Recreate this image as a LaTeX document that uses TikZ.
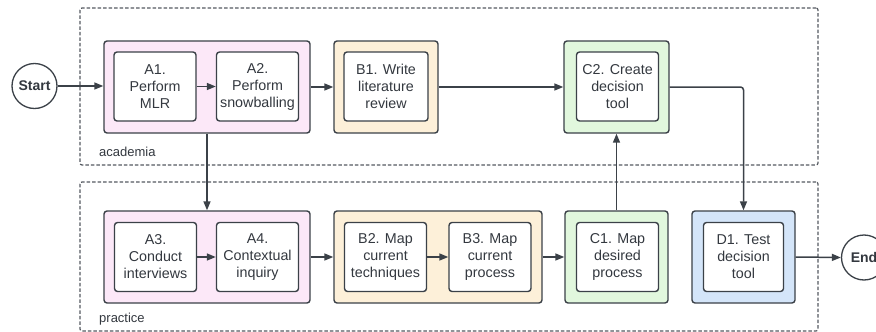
\documentclass[tikz,border=0pt]{standalone}
\usepackage{fontspec}
\setmainfont{Liberation Sans}
\usetikzlibrary{arrows.meta}
\definecolor{ink}{HTML}{3B4148}
\definecolor{txt}{HTML}{33383F}
\definecolor{pinkf}{HTML}{FCE8F8}
\definecolor{yelf}{HTML}{FDF0D9}
\definecolor{grnf}{HTML}{E1F7DD}
\definecolor{bluf}{HTML}{D4E5F9}
\definecolor{framec}{HTML}{555A61}
\begin{document}
\begin{tikzpicture}[x=1pt,y=-1pt,
  grp/.style={draw=ink, line width=1.4pt, rounded corners=3pt, inner sep=0pt, minimum height=92pt},
  task/.style={draw=ink, fill=white, line width=1.4pt, rounded corners=3pt, minimum width=82pt, minimum height=69pt, align=center, font=\fontsize{14.3}{17}\selectfont, text=txt, inner sep=0pt},
  term/.style={circle, draw=ink, line width=1.3pt, minimum size=45pt, inner sep=0pt, font=\bfseries\fontsize{14}{17}\selectfont, text=txt},
  flow/.style={draw=ink, line width=1.5pt, rounded corners=3pt, -{Triangle[length=9pt,width=7pt]}},
  laneframe/.style={draw=framec, line width=1.2pt, dash pattern=on 3.5pt off 2pt, rounded corners=2pt, inner sep=0pt},
  lane/.style={font=\fontsize{13}{15}\selectfont, text=txt, anchor=west, inner sep=0pt}]
\clip (0,0) rectangle (876,332);
\fill[white] (0,0) rectangle (876,332);

% swimlanes
\node[laneframe, minimum width=738pt, minimum height=157pt] (acad) at (449,86.5) {};
\node[laneframe, minimum width=738pt, minimum height=149pt] (prac) at (449,256.5) {};
\node[lane] (acadlbl) at (99,152) {academia};
\node[lane] (praclbl) at (99,319) {practice};

% terminals
\node[term] (start) at (34.5,86) {Start};
\node[term] (end) at (864,257.5) {End};

% groups top
\node[grp, fill=pinkf, minimum width=206pt] (gA) at (207,87) {};
\node[grp, fill=yelf, minimum width=104pt] (gB1) at (386,87) {};
\node[grp, fill=grnf, minimum width=105pt] (gC2) at (616.5,87) {};
% groups bottom
\node[grp, fill=pinkf, minimum width=206pt] (gA2) at (207,257) {};
\node[grp, fill=yelf, minimum width=208pt] (gB2) at (438,257) {};
\node[grp, fill=grnf, minimum width=103pt] (gC1) at (616.5,257) {};
\node[grp, fill=bluf, minimum width=103pt] (gD1) at (743.5,257) {};

% tasks top
\node[task] (a1) at (155,86.5) {A1.\\Perform\\MLR};
\node[task] (a2) at (257.5,86.5) {A2.\\Perform\\snowballing};
\node[task, minimum width=84pt] (b1) at (386,86.5) {B1. Write\\literature\\review};
\node[task] (c2) at (617.5,86.5) {C2. Create\\decision\\tool};
% tasks bottom
\node[task] (a3) at (155.5,257) {A3.\\Conduct\\interviews};
\node[task] (a4) at (257.5,257) {A4.\\Contextual\\inquiry};
\node[task] (b2) at (385.5,257) {B2. Map\\current\\techniques};
\node[task] (b3) at (490,257) {B3. Map\\current\\process};
\node[task] (c1) at (617.5,257) {C1. Map\\desired\\process};
\node[task, minimum width=80pt] (d1) at (743.5,257) {D1. Test\\decision\\tool};

% connectors
\draw[flow] (start.east) -- (gA.west |- start.east);
\draw[flow] (a1) -- (a2);
\draw[flow] (gA.east) -- (gB1.west);
\draw[flow] (gB1.east) -- (gC2.west);
\draw[flow] (gC2.east) -| (gD1.north);
\draw[flow] (gA.south) -- (gA2.north);
\draw[flow] (gC1.north) -- (gC2.south);
\draw[flow] (a3) -- (a4);
\draw[flow] (gA2.east) -- (gB2.west);
\draw[flow] (b2) -- (b3);
\draw[flow] (gB2.east) -- (gC1.west);
\draw[flow] (gD1.east) -- (end.west);
\end{tikzpicture}
\end{document}
